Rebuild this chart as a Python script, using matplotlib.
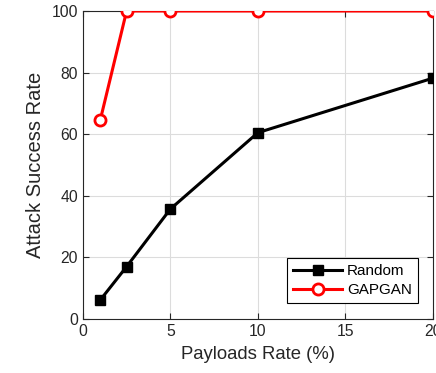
import matplotlib.pyplot as plt

plt.rcParams['font.family'] = ['Liberation Sans', 'DejaVu Sans']

payload = [1, 2.5, 5, 10, 20]
random_rate = [6.2, 17, 35.7, 60.5, 78.2]
gapgan_rate = [64.7, 100, 100, 100, 100]

fig = plt.figure(figsize=(4.36, 3.73), dpi=100)
ax = fig.add_axes([0.190, 0.1448, 0.803, 0.8257])

ax.plot(payload, random_rate, color='black', lw=2.2, marker='s',
        markersize=7, label='Random', zorder=3)
ax.plot(payload, gapgan_rate, color='red', lw=2.2, marker='o',
        markersize=8, markerfacecolor='white', markeredgewidth=2,
        label='GAPGAN', zorder=3)

ax.set_xlim(0, 20)
ax.set_ylim(0, 100)
ax.set_xticks([0, 5, 10, 15, 20])
ax.set_yticks([0, 20, 40, 60, 80, 100])
ax.grid(True, color='#dcdcdc', lw=0.8)
ax.tick_params(direction='in', top=True, right=True, labelsize=11.3,
               colors='#262626', length=4)
for s in ax.spines.values():
    s.set_color('#262626')
    s.set_linewidth(0.8)

ax.set_xlabel('Payloads Rate (%)', fontsize=13.3, color='#262626', labelpad=5)
ax.set_ylabel('Attack Success Rate', fontsize=14.5, color='#262626', labelpad=5)

leg = ax.legend(loc='lower right', fontsize=11, fancybox=False,
                edgecolor='black', framealpha=1, handlelength=3.2,
                handletextpad=0.3, borderpad=0.4, labelspacing=0.3,
                borderaxespad=0, bbox_to_anchor=(0.957, 0.052))
leg.get_frame().set_linewidth(0.8)

fig.savefig('out.png', dpi=100)
